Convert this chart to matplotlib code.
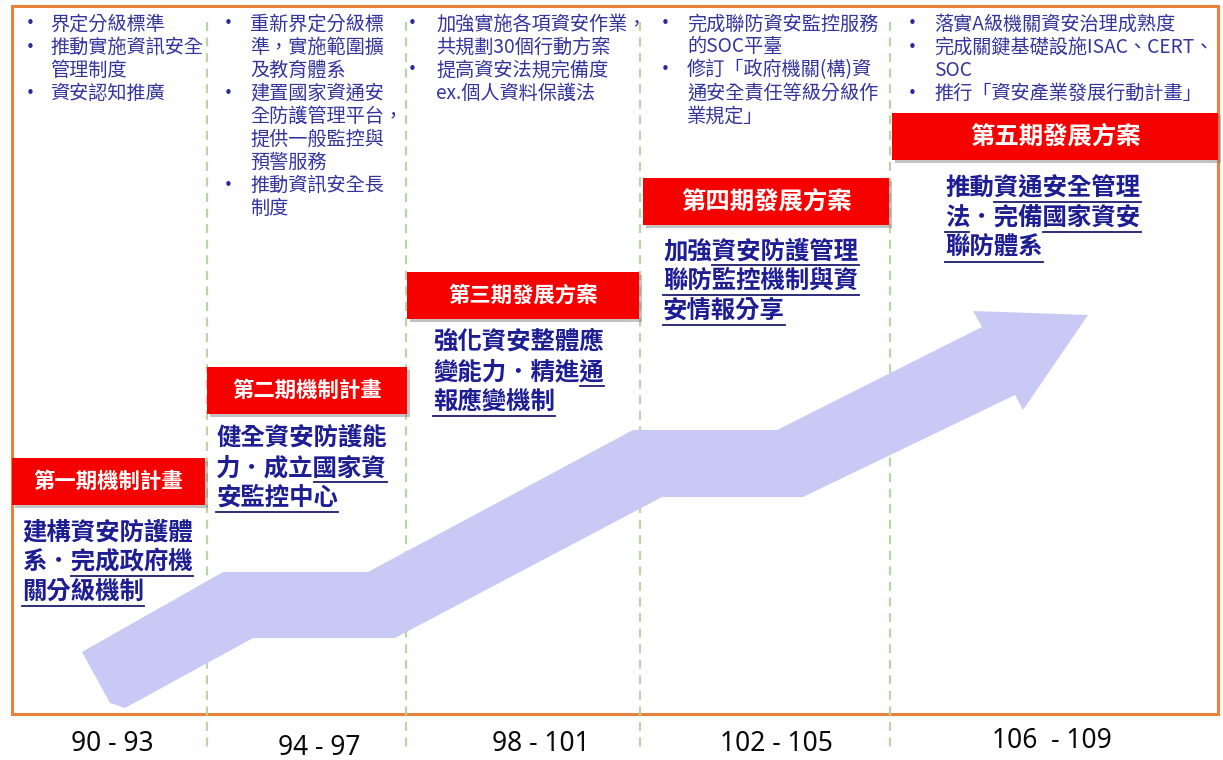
import matplotlib
matplotlib.use("Agg")
import matplotlib.pyplot as plt
from matplotlib.patches import Rectangle, Polygon

plt.rcParams['font.family'] = ['Noto Sans CJK TC', 'DejaVu Sans']

# ---------------------------------------------------------------- data
periods = ["90 - 93", "94 - 97", "98 - 101", "102 - 105", "106  - 109"]

titles = ["第一期機制計畫", "第二期機制計畫", "第三期發展方案",
          "第四期發展方案", "第五期發展方案"]

# [..] marks the underlined part of a line
goals = [
    ["建構資安防護體", "系．[完成政府機]", "[關分級機制]"],
    ["健全資安防護能", "力．成立[國家資]", "[安監控中心]"],
    ["強化資安整體應", "變能力．精進[通]", "[報應變機制]"],
    ["加強[資安防護管理]", "[聯防監控機制與資]", "[安情報分享]"],
    ["推動[資通安全管理]", "[法]．完備[國家資安]", "[聯防體系]"],
]

# each bullet is a list of wrapped lines
bullets = [
    [["界定分級標準"], ["推動實施資訊安全", "管理制度"], ["資安認知推廣"]],
    [["重新界定分級標", "準，實施範圍擴", "及教育體系"],
     ["建置國家資通安", "全防護管理平台，", "提供一般監控與", "預警服務"],
     ["推動資訊安全長", "制度"]],
    [["加強實施各項資安作業，", "共規劃30個行動方案"],
     ["提高資安法規完備度", "ex.個人資料保護法"]],
    [["完成聯防資安監控服務", "的SOC平臺"],
     ["修訂「政府機關(構)資", "通安全責任等級分級作", "業規定」"]],
    [["落實A級機關資安治理成熟度"],
     ["完成關鍵基礎設施ISAC、CERT、", "SOC"],
     ["推行「資安產業發展行動計畫」"]],
]

# ---------------------------------------------------------------- layout (pixels)
W, H = 1223, 760
dividers = [207, 406, 640, 890]
period_x = [112, 319, 541, 776, 1052]
period_y = [744, 748, 744, 744, 741]
box_x0 = [12, 207, 407, 643, 892]
box_x1 = [205, 407, 639, 889, 1218]
box_y0 = [458, 367, 272, 178, 113]
box_h = 47
title_size = [15.4, 15.4, 15.4, 17.6, 17.6]
goal_x = [22, 216, 433, 663, 945]
goal_y = [532, 438, 342, 251, 188]
bullet_x = [30, 228, 412, 665, 912]
text_x = [50, 250, 436, 687, 934]
arrow = [(82, 652), (223, 572), (368, 572), (633, 430), (777, 430),
         (982, 327), (973, 311), (1088, 315), (1023, 410), (1015, 395),
         (803, 497), (662, 497), (395, 638), (253, 638), (125, 708), (110, 703)]

fig = plt.figure(figsize=(W / 100, H / 100), dpi=100)
ax = fig.add_axes([0, 0, 1, 1])
ax.set_xlim(0, W)
ax.set_ylim(H, 0)
ax.axis('off')

# frame
ax.add_patch(Rectangle((12, 6), 1206, 708, fill=False, ec='#E8823A', lw=2.2, zorder=1))

# dividers
for x in dividers:
    ax.plot([x, x], [22, 752], color='#B9D5A6', lw=1.6, ls=(0, (4, 3)), zorder=2)

# arrow
ax.add_patch(Polygon(arrow, closed=True, fc='#C9C9F6', ec='none', zorder=3))

# period labels
for x, y, s in zip(period_x, period_y, periods):
    ax.text(x, y, s, ha='center', va='center', fontsize=19,
            family=['Noto Sans', 'DejaVu Sans'], color='#0a0a0a')

# red title boxes
for i, t in enumerate(titles):
    x0, x1, y0 = box_x0[i], box_x1[i], box_y0[i]
    ax.add_patch(Rectangle((x0 + 3, y0 + 3), x1 - x0, box_h, fc='#7a7a7a',
                           ec='none', alpha=0.45, zorder=4))
    ax.add_patch(Rectangle((x0, y0), x1 - x0, box_h, fc='#F70000', ec='none', zorder=5))
    ax.text((x0 + x1) / 2, y0 + box_h / 2, t, ha='center', va='center',
            fontsize=title_size[i], color='white', fontweight='bold', zorder=6)

# goal texts with underlines
gsize = 17.6
em = gsize * 100 / 72
for i, lines in enumerate(goals):
    for k, line in enumerate(lines):
        y = goal_y[i] + k * 30
        plain = line.replace('[', '').replace(']', '')
        ax.text(goal_x[i], y, plain, ha='left', va='center', fontsize=gsize,
                fontweight='bold', color='#1D1D94', zorder=6)
        idx = 0
        start = None
        for ch in line:
            if ch == '[':
                start = idx
            elif ch == ']':
                ax.plot([goal_x[i] + start * em, goal_x[i] + idx * em], [y + 14, y + 14],
                        color='#1B1B6E', lw=1.3, zorder=6)
            else:
                idx += 1

# bullet lists
bsize = 13.8
for i, items in enumerate(bullets):
    row = 0
    for item in items:
        ax.text(bullet_x[i], 24 + row * 23, "•", ha='center', va='center',
                fontsize=11, color='#2A2A9A', family=['DejaVu Sans'])
        for line in item:
            ax.text(text_x[i], 24 + row * 23, line, ha='left', va='center',
                    fontsize=bsize, color='#34349F')
            row += 1

fig.savefig("out.png", dpi=100)
